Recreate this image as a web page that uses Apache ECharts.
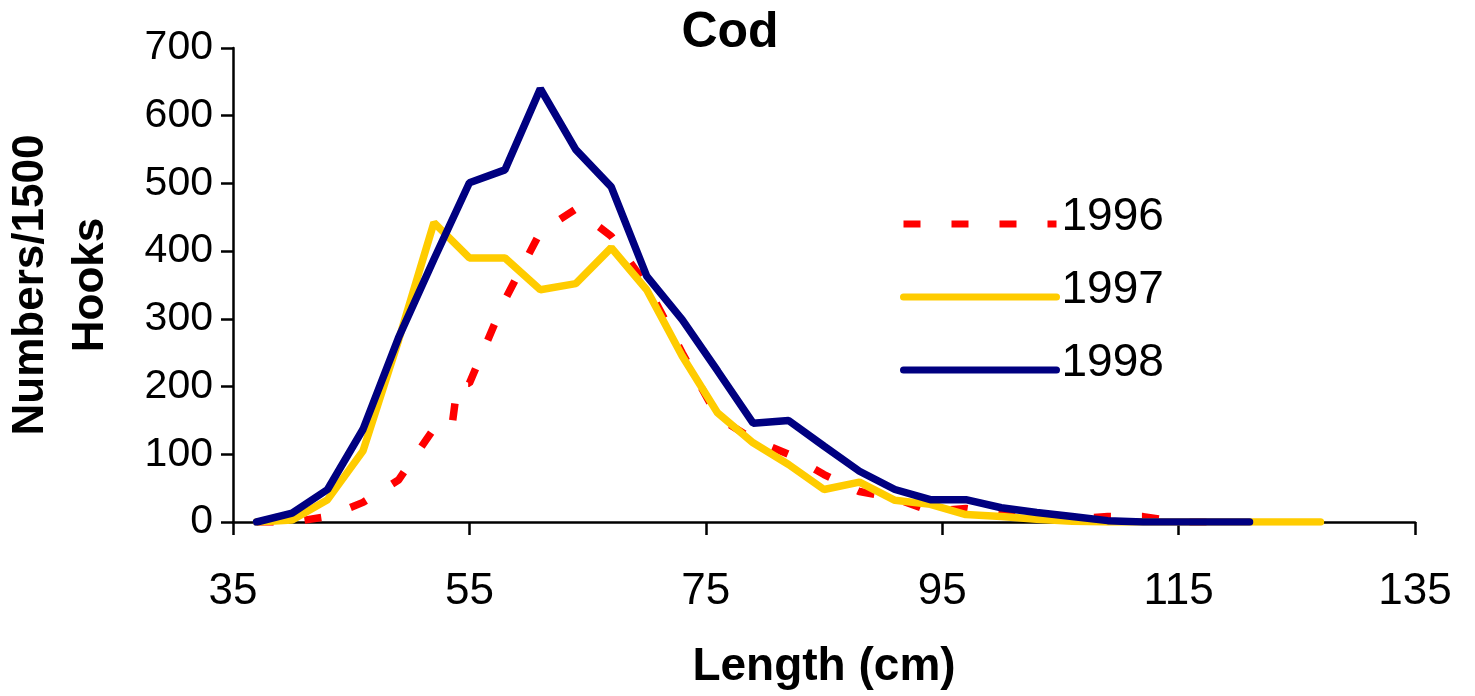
<!DOCTYPE html>
<html>
<head>
<meta charset="utf-8">
<script src="https://cdn.jsdelivr.net/npm/echarts@6/dist/echarts.min.js"></script>
<style>
  html, body { margin: 0; padding: 0; background: #fff; }
  #chart { width: 1475px; height: 696px; }
</style>
</head>
<body>
<div id="chart"></div>
<script>
// length classes (cm), 3 cm steps
const lengths = [37, 40, 43, 46, 49, 52, 55, 58, 61, 64, 67, 70, 73, 76, 79, 82, 85, 88, 91, 94,
  97, 100, 103, 106, 109, 112, 115, 118, 121, 124, 127];

// 1996 is drawn from its own x positions (small step near 53-54 cm)
const len1996 = [37, 40, 43, 46, 49, 52, 53.5, 54, 55, 58, 61, 64, 67, 70, 73, 76, 79, 82, 85, 88,
  91, 94, 97, 100, 103, 106, 109, 112, 115, 118];
const num1996 = [0, 0, 8, 29, 62, 138, 138, 205, 205, 328, 428, 462, 422, 350, 250, 155, 122, 100, 70, 45,
  35, 16, 20, 12, 6, 5, 8, 8, 0, 0];

const num1997 = [0, 3, 33, 105, 268, 442, 390, 390, 343, 352, 405, 343, 245, 161, 117, 85, 48, 59, 32, 26,
  11, 8, 4, 1, 0, 0, 0, 0, 0, 0, 0];

const num1998 = [0, 13, 48, 137, 272, 388, 501, 520, 640, 550, 495, 363, 299, 223, 146, 150, 112, 75, 48, 33,
  33, 21, 14, 8, 2, 0, 0, 0, 0];

const years = ['1996', '1997', '1998'];
const xTicks = { min: 35, max: 135, step: 20 };
const yTicks = { min: 0, max: 700, step: 100 };

const zip = (xs, ys) => ys.map((v, i) => [xs[i], v]);

const chart = echarts.init(document.getElementById('chart'));
const font = 'Liberation Sans, Arial, Helvetica, sans-serif';

chart.setOption({
  animation: false,
  textStyle: { fontFamily: font, color: '#000' },
  title: {
    text: 'Cod',
    left: 725,
    top: 3,
    textAlign: 'center',
    textStyle: { fontSize: 50, fontWeight: 'bold', color: '#000', fontFamily: font }
  },
  legend: {
    orient: 'vertical',
    left: 895,
    top: 189,
    itemWidth: 153,
    itemHeight: 10,
    itemGap: 27,
    data: years,
    itemStyle: { color: 'rgba(0,0,0,0)', borderWidth: 0 },
    lineStyle: { width: 7 },
    formatter: '{t|{name}}',
    textStyle: {
      fontSize: 46, color: '#000', fontFamily: font,
      rich: { t: { fontSize: 46, fontFamily: font, color: '#000', padding: [0, 0, 14, 0] } }
    }
  },
  grid: { left: 233, right: 60, top: 48, bottom: 174, containLabel: false, outerBoundsMode: 'none' },
  xAxis: {
    type: 'value',
    min: xTicks.min,
    max: xTicks.max,
    interval: xTicks.step,
    name: 'Length (cm)',
    nameLocation: 'middle',
    nameGap: 122,
    nameMoveOverlap: false,
    nameTextStyle: { fontSize: 46, fontWeight: 'bold', color: '#000', fontFamily: font },
    axisLine: { lineStyle: { color: '#000', width: 2.5 } },
    axisTick: { inside: false, length: 13, lineStyle: { color: '#000', width: 2.5 } },
    axisLabel: { margin: 48, fontSize: 44, color: '#000', fontFamily: font },
    splitLine: { show: false }
  },
  yAxis: {
    type: 'value',
    min: yTicks.min,
    max: yTicks.max,
    interval: yTicks.step,
    name: 'Numbers/1500\nHooks',
    nameLocation: 'middle',
    nameRotate: 90,
    nameGap: 112,
    nameMoveOverlap: false,
    nameTextStyle: { fontSize: 44, fontWeight: 'bold', color: '#000', lineHeight: 60, fontFamily: font },
    axisLine: { show: true, lineStyle: { color: '#000', width: 2.5 } },
    axisTick: { show: true, inside: false, length: 12, lineStyle: { color: '#000', width: 2.5 } },
    axisLabel: { margin: 20, fontSize: 41, color: '#000', fontFamily: font },
    splitLine: { show: false }
  },
  series: [
    {
      name: '1996',
      type: 'line',
      symbol: 'none',
      data: zip(len1996, num1996),
      lineStyle: { color: '#ff0000', width: 7.5, type: [17, 31], cap: 'butt' },
      itemStyle: { color: '#ff0000' }
    },
    {
      name: '1997',
      type: 'line',
      symbol: 'none',
      data: zip(lengths, num1997),
      lineStyle: { color: '#ffcc00', width: 7.5, cap: 'round' },
      itemStyle: { color: '#ffcc00' }
    },
    {
      name: '1998',
      type: 'line',
      symbol: 'none',
      data: zip(lengths, num1998),
      lineStyle: { color: '#000080', width: 7.5, cap: 'round' },
      itemStyle: { color: '#000080' }
    }
  ]
});
</script>
</body>
</html>
